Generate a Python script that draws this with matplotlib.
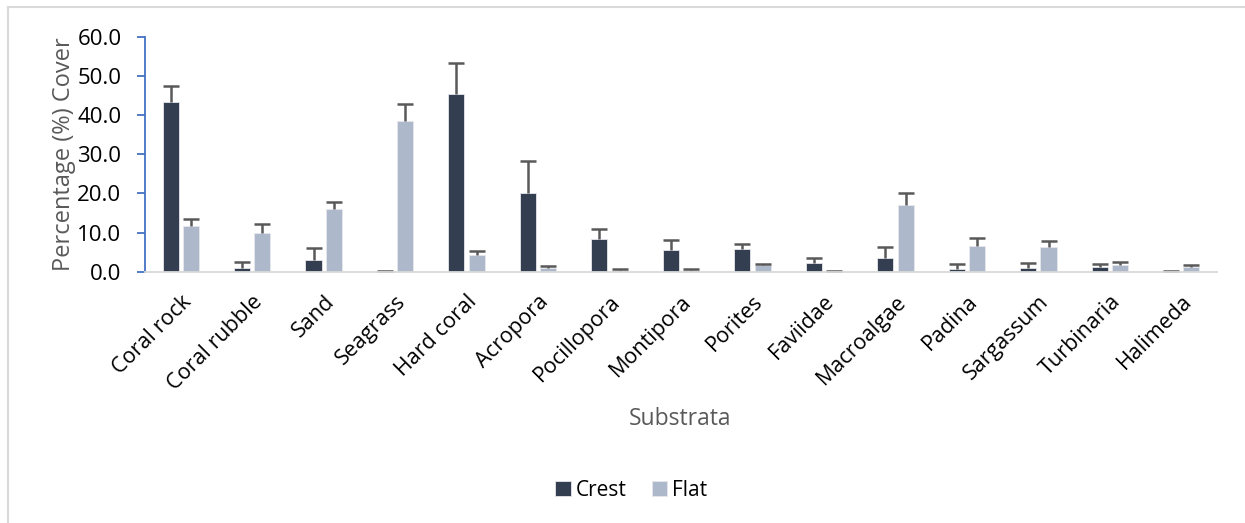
import matplotlib.pyplot as plt
import numpy as np
from matplotlib.lines import Line2D

plt.rcParams['font.family'] = ['Open Sans', 'DejaVu Sans']

substrata = ["Coral rock", "Coral rubble", "Sand", "Seagrass", "Hard coral",
             "Acropora", "Pocillopora", "Montipora", "Porites", "Faviidae",
             "Macroalgae", "Padina", "Sargassum", "Turbinaria", "Halimeda"]

crest = [43.4, 1.0, 3.1, 0.1, 45.3, 20.1, 8.3, 5.5, 5.7, 2.2, 3.4, 0.8, 0.9, 1.1, 0.1]
crest_se = [4.0, 1.4, 3.0, 0.0, 8.1, 8.1, 2.5, 2.5, 1.4, 1.4, 2.9, 1.1, 1.3, 0.9, 0.0]

flat = [11.7, 9.8, 16.0, 38.5, 4.3, 0.9, 0.5, 0.4, 1.6, 0.25, 17.0, 6.6, 6.4, 1.7, 1.2]
flat_se = [1.8, 2.4, 1.9, 4.3, 0.9, 0.6, 0.1, 0.4, 0.4, 0.05, 3.0, 1.9, 1.4, 0.8, 0.5]

crest_color = '#333F50'
flat_color = '#ADB9CA'
err_color = '#595959'

fig = plt.figure(figsize=(12.45, 5.23), dpi=100)
ax = fig.add_axes([0.1165, 0.4805, 0.861, 0.4493])

x = np.arange(len(substrata))
w = 0.225
gap = 0.03
err_kw = dict(ecolor=err_color, elinewidth=1.8, capsize=6, capthick=1.8)

bars_c = ax.bar(x - w / 2 - gap, crest, w, color=crest_color, edgecolor='#e6e8ec', linewidth=0.6,
                yerr=[np.zeros(len(crest)), crest_se], error_kw=err_kw, label='Crest')
bars_f = ax.bar(x + w / 2 + gap, flat, w, color=flat_color, edgecolor='#e6e8ec', linewidth=0.6,
                yerr=[np.zeros(len(flat)), flat_se], error_kw=err_kw, label='Flat')

# only the upper half of each error bar is shown, so hide the lower caps
for bars in (bars_c, bars_f):
    caps = bars.errorbar.lines[1]
    caps[0].set_visible(False)

ax.set_xlim(-0.5, len(substrata) - 0.5)
ax.set_ylim(0, 60)
ax.set_yticks(np.arange(0, 61, 10))
ax.set_yticklabels([f"{v:.1f}" for v in np.arange(0, 61, 10)], fontsize=16, color='black')
ax.set_xticks(x)
ax.set_xticklabels(substrata, rotation=45, ha='right', rotation_mode='anchor', fontsize=15.5)
ax.tick_params(axis='x', length=0, pad=14)
ax.tick_params(axis='y', length=6, width=1.3, color='#4472C4', direction='out', pad=11)

for side in ['top', 'right']:
    ax.spines[side].set_visible(False)
ax.spines['left'].set_color('#4472C4')
ax.spines['left'].set_linewidth(1.3)
ax.spines['bottom'].set_color('#D9D9D9')
ax.spines['bottom'].set_linewidth(1.3)

ax.set_ylabel('Percentage (%) Cover', fontsize=17, color='#595959', labelpad=1)
fig.text(0.546, 0.198, 'Substrata', fontsize=16.5, color='#595959', ha='center', va='center')

leg = fig.legend(loc='center', bbox_to_anchor=(0.507, 0.062), ncol=2, frameon=False,
                 fontsize=15, handlelength=0.75, handleheight=0.75, handletextpad=0.25,
                 columnspacing=1.2)

# light frame around the chart area
fig.add_artist(Line2D([0.0064, 1.0], [0.9866, 0.9866], color='#D9D9D9', lw=1.5,
                      transform=fig.transFigure))
fig.add_artist(Line2D([0.0064, 0.0064], [0.0, 0.9866], color='#D9D9D9', lw=1.5,
                      transform=fig.transFigure))

fig.savefig('out.png', dpi=100)
